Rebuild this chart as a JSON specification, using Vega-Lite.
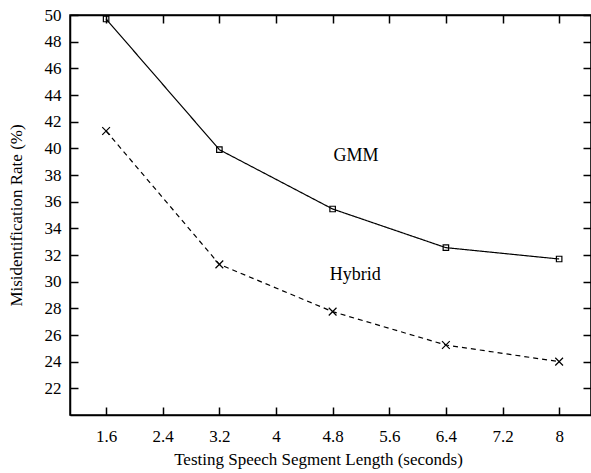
{
  "$schema": "https://vega.github.io/schema/vega-lite/v6.json",
  "width": 521,
  "height": 400,
  "autosize": "none",
  "padding": {"left": 70, "top": 15, "right": 0, "bottom": 58},
  "background": "white",
  "config": {
    "view": {"stroke": "black", "strokeWidth": 1.5},
    "font": "Liberation Serif",
    "axis": {
      "grid": false,
      "domainColor": "black",
      "domainWidth": 1.5,
      "tickColor": "black",
      "tickWidth": 1.5,
      "tickSize": -8,
      "labelFont": "Liberation Serif",
      "labelFontSize": 17,
      "labelColor": "black",
      "titleFont": "Liberation Serif",
      "titleFontSize": 17,
      "titleFontWeight": "normal",
      "titleColor": "black"
    }
  },
  "datasets": {
    "series": [
      {"series": "GMM", "length": 1.6, "rate": 49.7},
      {"series": "GMM", "length": 3.2, "rate": 39.9},
      {"series": "GMM", "length": 4.8, "rate": 35.45},
      {"series": "GMM", "length": 6.4, "rate": 32.55},
      {"series": "GMM", "length": 8.0, "rate": 31.7},
      {"series": "Hybrid", "length": 1.6, "rate": 41.3},
      {"series": "Hybrid", "length": 3.2, "rate": 31.3},
      {"series": "Hybrid", "length": 4.8, "rate": 27.75},
      {"series": "Hybrid", "length": 6.4, "rate": 25.25},
      {"series": "Hybrid", "length": 8.0, "rate": 24.0}
    ],
    "labels": [
      {"label": "GMM", "length": 5.13, "rate": 39.4},
      {"label": "Hybrid", "length": 5.12, "rate": 30.5}
    ]
  },
  "resolve": {"axis": {"x": "independent", "y": "independent"}},
  "layer": [
    {
      "data": {"name": "series"},
      "mark": {"type": "line", "color": "black", "strokeWidth": 1.2},
      "encoding": {
        "x": {
          "field": "length", "type": "quantitative",
          "scale": {"domain": [1.09, 8.45], "nice": false, "zero": false},
          "axis": {
            "orient": "bottom",
            "title": "Testing Speech Segment Length (seconds)",
            "values": [1.6, 2.4, 3.2, 4.0, 4.8, 5.6, 6.4, 7.2, 8.0],
            "format": ".2~g",
            "labelPadding": 21,
            "titlePadding": 7,
            "titleX": 248
          }
        },
        "y": {
          "field": "rate", "type": "quantitative",
          "scale": {"domain": [20, 50], "nice": false, "zero": false},
          "axis": {
            "orient": "left",
            "title": "Misidentification Rate (%)",
            "values": [22, 24, 26, 28, 30, 32, 34, 36, 38, 40, 42, 44, 46, 48, 50],
            "labelPadding": 17,
            "titlePadding": 19
          }
        },
        "strokeDash": {
          "field": "series", "type": "nominal",
          "scale": {"domain": ["GMM", "Hybrid"], "range": [[1, 0], [5, 4]]},
          "legend": null
        }
      }
    },
    {
      "data": {"name": "series"},
      "mark": {"type": "point", "filled": false, "color": "black", "strokeWidth": 1.2, "opacity": 1},
      "encoding": {
        "x": {"field": "length", "type": "quantitative", "axis": null},
        "y": {"field": "rate", "type": "quantitative", "axis": null},
        "shape": {
          "field": "series", "type": "nominal",
          "scale": {"domain": ["GMM", "Hybrid"], "range": ["square", "M-1,-1L1,1M-1,1L1,-1"]},
          "legend": null
        },
        "size": {
          "field": "series", "type": "nominal",
          "scale": {"domain": ["GMM", "Hybrid"], "range": [30, 60]},
          "legend": null
        }
      }
    },
    {
      "data": {"name": "labels"},
      "mark": {"type": "text", "font": "Liberation Serif", "fontSize": 18, "color": "black"},
      "encoding": {
        "x": {"field": "length", "type": "quantitative", "axis": null},
        "y": {"field": "rate", "type": "quantitative", "axis": null},
        "text": {"field": "label"}
      }
    },
    {
      "data": {"name": "series"},
      "mark": {"type": "point", "opacity": 0},
      "encoding": {
        "x": {
          "field": "length", "type": "quantitative",
          "axis": {"orient": "top", "title": null, "labels": false,
                   "values": [1.6, 2.4, 3.2, 4.0, 4.8, 5.6, 6.4, 7.2, 8.0]}
        },
        "y": {
          "field": "rate", "type": "quantitative",
          "axis": {"orient": "right", "title": null, "labels": false,
                   "values": [22, 24, 26, 28, 30, 32, 34, 36, 38, 40, 42, 44, 46, 48, 50]}
        }
      }
    }
  ]
}
